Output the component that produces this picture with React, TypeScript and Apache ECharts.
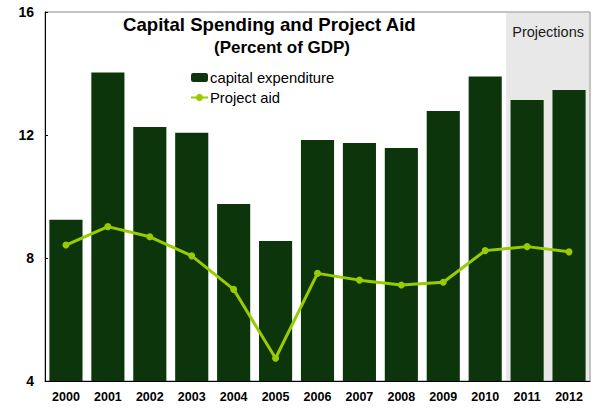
import React, { useEffect, useRef } from "react";
import * as echarts from "echarts";

const years = ["2000", "2001", "2002", "2003", "2004", "2005", "2006", "2007", "2008", "2009", "2010", "2011", "2012"];
const capitalExpenditure = [9.24, 14.03, 12.26, 12.07, 9.76, 8.55, 11.84, 11.74, 11.58, 12.78, 13.9, 13.14, 13.46];
const projectAid = [8.42, 9.02, 8.69, 8.07, 6.98, 4.74, 7.5, 7.28, 7.12, 7.21, 8.24, 8.37, 8.2];
const yTicks = { min: 4, max: 16, interval: 4 };
const projectionRange = [10.5, 12.5];

const FONT = "Liberation Sans, Arial, sans-serif";

export default function App() {
  const ref = useRef<HTMLDivElement>(null);
  useEffect(() => {
    if (!ref.current) return;
    const chart = echarts.init(ref.current, null, { renderer: "svg" });
    chart.setOption({
      animation: false,
      textStyle: { fontFamily: FONT },
      title: [
        {
          text: "Capital Spending and Project Aid",
          left: 123,
          top: 15,
          padding: 0,
          textStyle: { fontSize: 18.6, fontWeight: "bold", color: "#000", fontFamily: FONT },
        },
        {
          text: "(Percent of GDP)",
          left: 214,
          top: 39,
          padding: 0,
          textStyle: { fontSize: 17, fontWeight: "bold", color: "#000", fontFamily: FONT },
        },
      ],
      legend: {
        orient: "vertical",
        left: 190,
        top: 70,
        padding: 0,
        itemWidth: 17,
        itemHeight: 9,
        itemGap: 5,
        data: ["capital expenditure", "Project aid"],
        textStyle: { fontSize: 14.8, color: "#000", fontFamily: FONT, padding: [0, 0, 0, -3] },
      },
      grid: {
        left: 45,
        right: 25,
        top: 12,
        bottom: 31,
        show: true,
        borderColor: "#888",
        borderWidth: 1,
      },
      xAxis: [
        {
          type: "category",
          data: years,
          axisLine: { onZero: false, lineStyle: { color: "#000", width: 1 } },
          axisTick: { inside: true, length: 3, interval: 0, lineStyle: { color: "#000" } },
          axisLabel: { fontSize: 12.5, fontWeight: "bold", color: "#000", margin: 9, interval: 0, fontFamily: FONT },
        },
        {
          type: "value",
          min: -0.5,
          max: years.length - 0.5,
          show: false,
        },
      ],
      yAxis: {
        type: "value",
        min: yTicks.min,
        max: yTicks.max,
        interval: yTicks.interval,
        splitLine: { show: false },
        axisLine: { show: true, onZero: false, lineStyle: { color: "#000", width: 1 } },
        axisTick: { show: true, inside: true, length: 3, lineStyle: { color: "#000" } },
        axisLabel: { fontSize: 14, fontWeight: "bold", color: "#000", margin: 11, fontFamily: FONT },
      },
      series: [
        {
          name: "capital expenditure",
          type: "bar",
          data: capitalExpenditure,
          barCategoryGap: "21%",
          itemStyle: { color: "#0c350c" },
          z: 2,
        },
        {
          name: "Project aid",
          type: "line",
          data: projectAid,
          symbol: "circle",
          symbolSize: 7,
          lineStyle: { color: "#99cc00", width: 3 },
          itemStyle: { color: "#99cc00" },
          z: 3,
        },
        {
          name: "projections",
          type: "line",
          xAxisIndex: 1,
          data: [],
          silent: true,
          z: 10,
          markArea: {
            silent: true,
            itemStyle: { color: "rgba(190,190,190,0.354)" },
            label: {
              show: true,
              position: "insideTop",
              distance: 12,
              color: "#1a1a1a",
              fontSize: 14.5,
              fontFamily: FONT,
            },
            data: [[{ name: "Projections", xAxis: projectionRange[0] }, { xAxis: projectionRange[1] }]],
          },
        },
      ],
    });
    return () => chart.dispose();
  }, []);
  return <div ref={ref} style={{ position: "absolute", left: 0, top: 0, width: 615, height: 412 }} />;
}
